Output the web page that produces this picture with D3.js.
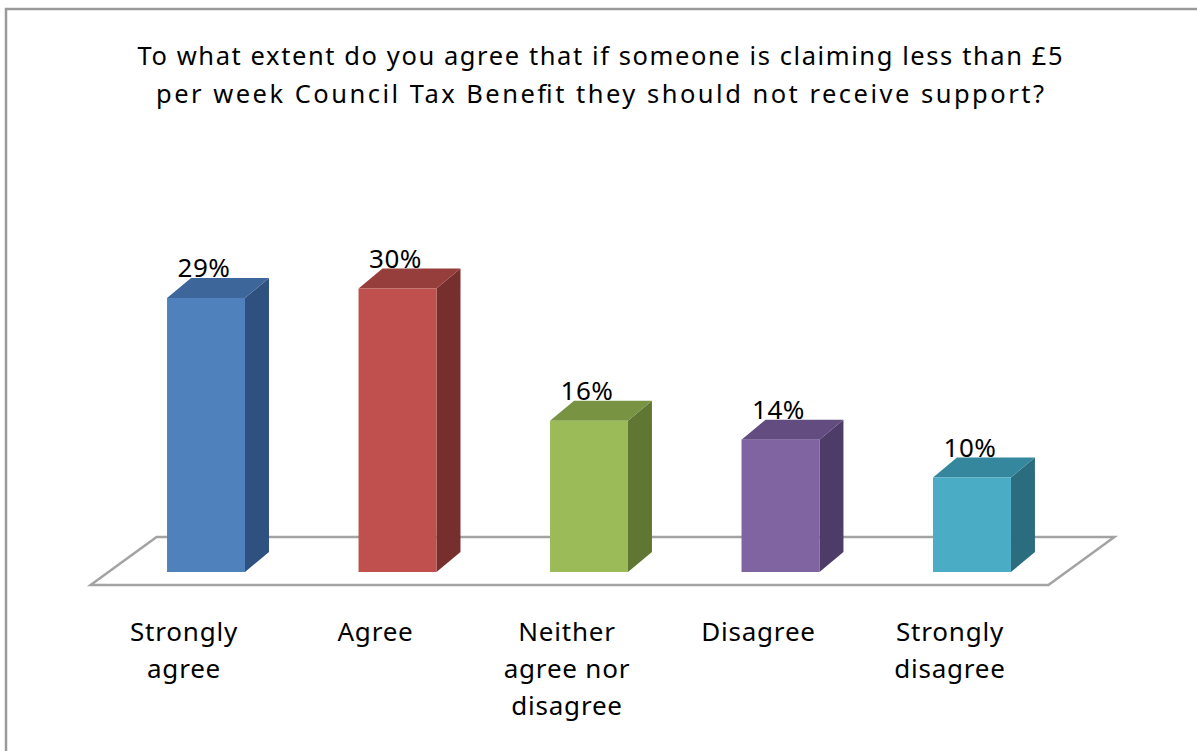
<!DOCTYPE html>
<html>
<head>
<meta charset="utf-8">
<script src="https://cdn.jsdelivr.net/npm/d3@7"></script>
<style>
  html, body { margin: 0; padding: 0; background: #fff; }
  svg { display: block; }
  text { font-family: "Noto Sans", "Open Sans", sans-serif; fill: #000; }
</style>
</head>
<body>
<svg id="chart" width="1197" height="751"></svg>
<script>
// Survey responses (percent of respondents)
const categories = ["Strongly agree", "Agree", "Neither agree nor disagree", "Disagree", "Strongly disagree"];
const categoryLines = [["Strongly", "agree"], ["Agree"], ["Neither", "agree nor", "disagree"], ["Disagree"], ["Strongly", "disagree"]];
const values = [29, 30, 16, 14, 10];
const valueLabels = ["29%", "30%", "16%", "14%", "10%"];
const titleLines = [
  "To what extent do you agree that if someone is claiming less than £5",
  "per week Council Tax Benefit they should not receive support?"
];

// Face colours per bar: front, top, side
const palette = [
  { front: "#4F81BD", top: "#3D679A", side: "#2F5180" },
  { front: "#C0504D", top: "#953E3B", side: "#772F2D" },
  { front: "#9BBB59", top: "#789443", side: "#5F7733" },
  { front: "#8064A2", top: "#624C80", side: "#4E3C68" },
  { front: "#4BACC6", top: "#35879D", side: "#2B6C7E" }
];

const svg = d3.select("#chart");

// Chart-area frame (runs off the right and bottom edges)
svg.append("rect")
  .attr("x", 6).attr("y", 9)
  .attr("width", 1300).attr("height", 900)
  .attr("fill", "#fff")
  .attr("stroke", "#9a9a9a").attr("stroke-width", 2.5);

// Title
svg.append("g").selectAll("text")
  .data(titleLines)
  .join("text")
  .attr("x", 600)
  .attr("y", (d, i) => 65 + i * 38)
  .attr("text-anchor", "middle")
  .attr("font-size", 25.5)
  .attr("textLength", (d, i) => [925, 888][i])
  .attr("lengthAdjust", "spacing")
  .text(d => d);

// Scales
const x = d3.scaleBand()
  .domain(categories)
  .range([109.6, 1068.4])
  .paddingInner(0.593)
  .paddingOuter(0.3);

const baseY = 572;
const y = d3.scaleLinear().domain([0, 35]).range([baseY, baseY - 9.45 * 35]);

// 3D offsets for bar depth and floor depth
const dx = 24, dy = -20;
const fdx = 66, fdy = -48;
const r = x.range();

// Floor plane
const floorFront = 585;
const floorPts = [
  [r[0] - 19, floorFront],
  [r[0] - 19 + fdx, floorFront + fdy],
  [r[1] - 20 + fdx, floorFront + fdy],
  [r[1] - 20, floorFront]
];
const defs = svg.append("defs");
const f = defs.append("filter").attr("id", "soft").attr("x", "-5%").attr("y", "-20%").attr("width", "110%").attr("height", "140%");
f.append("feGaussianBlur").attr("stdDeviation", 0.6);

svg.append("polygon")
  .attr("points", floorPts.map(p => p.join(",")).join(" "))
  .attr("fill", "#fff")
  .attr("stroke", "#a3a3a3")
  .attr("stroke-width", 2.5)
  .attr("stroke-linejoin", "miter")
  .attr("filter", "url(#soft)");

// Bars
const bars = svg.append("g").selectAll("g")
  .data(values.map((v, i) => ({ v, i, c: categories[i] })))
  .join("g");

bars.append("polygon") // side face
  .attr("points", d => {
    const x1 = x(d.c) + x.bandwidth(), yt = y(d.v);
    return [[x1, yt], [x1 + dx, yt + dy], [x1 + dx, baseY + dy], [x1, baseY]].map(p => p.join(",")).join(" ");
  })
  .attr("fill", d => palette[d.i].side);

bars.append("polygon") // top face
  .attr("points", d => {
    const x0 = x(d.c), x1 = x0 + x.bandwidth(), yt = y(d.v);
    return [[x0, yt], [x1, yt], [x1 + dx, yt + dy], [x0 + dx, yt + dy]].map(p => p.join(",")).join(" ");
  })
  .attr("fill", d => palette[d.i].top);

bars.append("rect") // front face
  .attr("x", d => x(d.c))
  .attr("y", d => y(d.v))
  .attr("width", x.bandwidth())
  .attr("height", d => baseY - y(d.v))
  .attr("fill", d => palette[d.i].front);

// Value labels
bars.append("text")
  .attr("x", d => x(d.c) + x.bandwidth() / 2 - 2)
  .attr("y", d => y(d.v) + dy - 1)
  .attr("text-anchor", "middle")
  .attr("font-size", 26)
  .attr("letter-spacing", 0.5)
  .text(d => valueLabels[d.i]);

// Category labels
const cats = svg.append("g").selectAll("text")
  .data(categories)
  .join("text")
  .attr("x", d => x(d) + x.bandwidth() / 2 - 22)
  .attr("y", 641)
  .attr("text-anchor", "middle")
  .attr("font-size", 26)
  .attr("letter-spacing", 0.8);

cats.selectAll("tspan")
  .data((d, i) => categoryLines[i])
  .join("tspan")
  .attr("x", function () { return this.parentNode.getAttribute("x"); })
  .attr("dy", (d, i) => i === 0 ? 0 : 37)
  .text(d => d);
</script>
</body>
</html>
